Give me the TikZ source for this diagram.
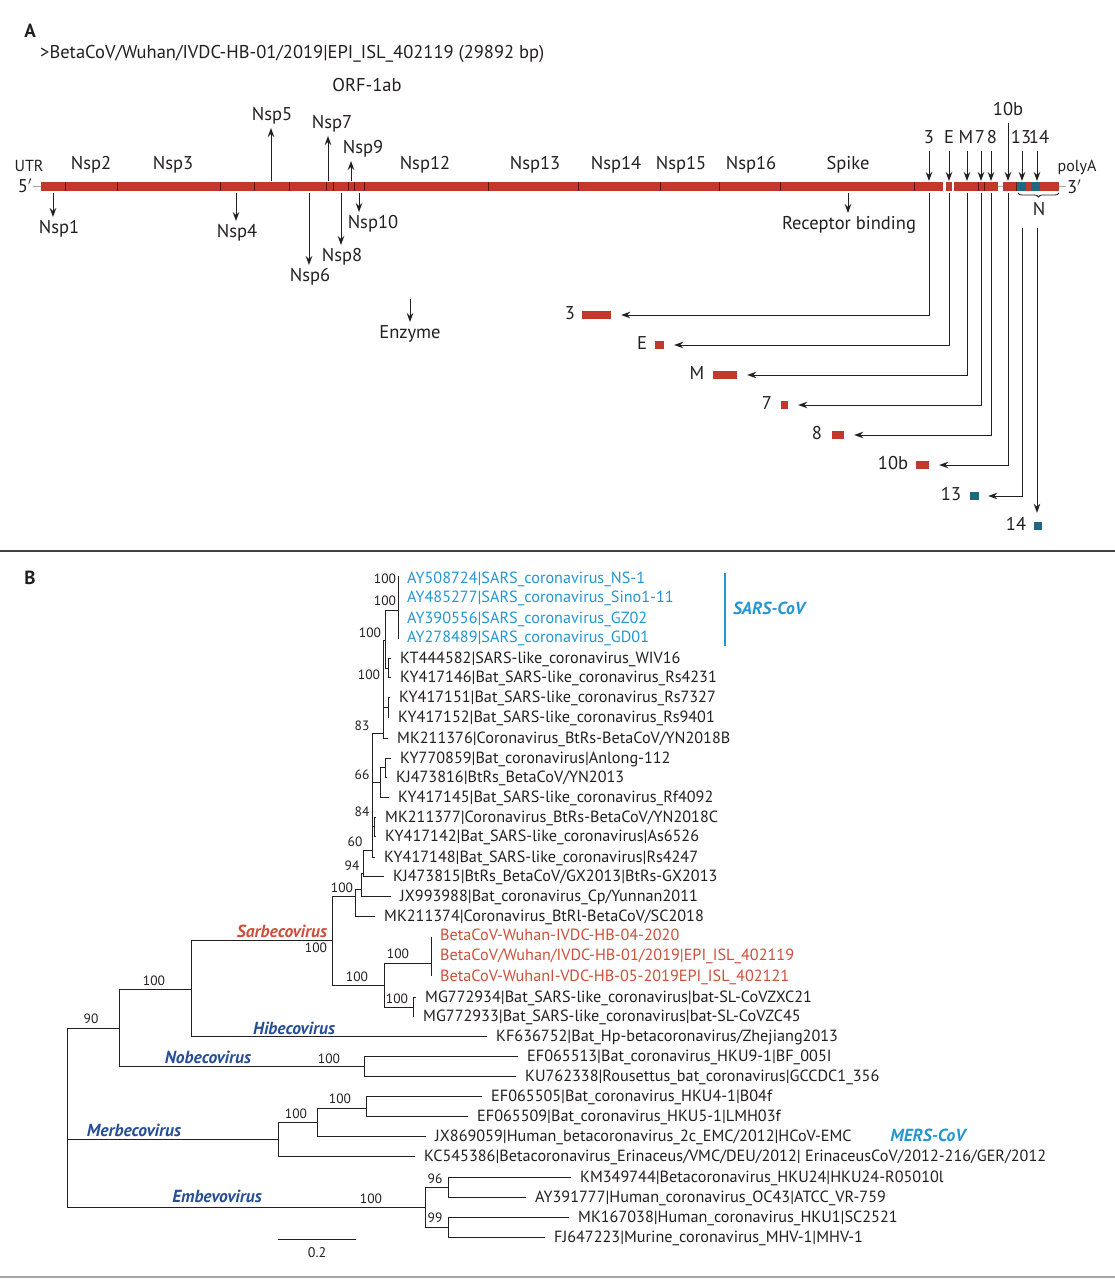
\documentclass[tikz,border=0pt]{standalone}
\usepackage{fontspec}
\setmainfont{PT Sans}
\usetikzlibrary{arrows.meta,calc,decorations.pathreplacing}

\definecolor{genred}{RGB}{192,57,43}
\definecolor{genteal}{RGB}{30,105,130}
\definecolor{sarsblue}{RGB}{35,150,210}
\definecolor{cladeblue}{RGB}{38,78,150}
\definecolor{covred}{RGB}{205,78,58}
\definecolor{ink}{RGB}{35,31,32}

\newcommand{\genefont}{\fontsize{18.5}{21}\selectfont}
\newcommand{\smallgenefont}{\fontsize{16}{19}\selectfont}
\newcommand{\leaffont}{\fontsize{16.2}{19}\selectfont}
\newcommand{\bootfont}{\fontsize{13.5}{16}\selectfont}
\newcommand{\cladefont}{\fontsize{17.5}{20}\selectfont\bfseries\itshape}

\tikzset{
  gene/.style={font=\genefont, text=ink, inner sep=3pt, text height=13.5pt, text depth=4pt},
  leaf/.style={font=\leaffont, text=ink, anchor=west, inner sep=0pt, text height=12.5pt, text depth=2pt},
  boot/.style={font=\bootfont, text=ink, inner sep=0pt},
  clade/.style={font=\cladefont, text=cladeblue, inner sep=0pt},
  branch/.style={draw=ink, line width=1pt},
  arr/.style={draw=ink, line width=1pt, -{Stealth[length=9pt,width=6.5pt]}},
  orfbox/.style={fill=genred, inner sep=0pt, minimum height=8pt},
  tick/.style={draw=genred!45!black, line width=1pt},
  endlabel/.style={font=\genefont, text=ink, inner sep=1pt, text height=10pt, text depth=0pt},
}

\begin{document}
\begin{tikzpicture}[x=1pt,y=-1pt]
  \useasboundingbox (0,0) rectangle (1115,1280);

  % panel A: genome
  \node[font=\fontsize{19}{22}\selectfont\bfseries, text=ink, inner sep=0pt] (pa) at (30,31) {A};
  \node[gene, anchor=west, inner sep=0pt] (hdr) at (40,54) {>BetaCoV/Wuhan/IVDC-HB-01/2019|EPI\_ISL\_402119 (29892 bp)};
  \node[gene] (orf) at (367,87) {ORF-1ab};

  \fill[genred] (41,182) rectangle (943,191);
  \fill[genred] (946,182) rectangle (952,191);
  \fill[genred] (954,182) rectangle (998,191);
  \fill[genred] (1003,182) rectangle (1059,191);
  \fill[genteal] (1018,182) rectangle (1026,191);
  \fill[genteal] (1031,182) rectangle (1040,191);
  \draw[gray!70, line width=1.5pt] (33,186.5) -- (41,186.5) (998,186.5) -- (1003,186.5) (1059,186.5) -- (1066,186.5);
  \foreach \t in {65,117,220,254,289,326,333,348,354,364,488,578,660,719,780,914,978,984,1016}
    \draw[tick] (\t,182) -- (\t,191);
  \coordinate (btop) at (0,181);
  \coordinate (bbot) at (0,193);

  \node[endlabel, anchor=east] (five) at (33,187) {5$'$};
  \node[endlabel, anchor=west] (three) at (1066,188) {3$'$};
  \node[gene, font=\smallgenefont, inner sep=1pt, text height=11pt, text depth=0pt] (utr) at (29,166) {UTR};
  \node[gene, font=\smallgenefont, inner sep=1pt, text depth=2pt] (polya) at (1077,166) {polyA};

  \foreach \x/\txt in {91/Nsp2,173/Nsp3,425/Nsp12,535/Nsp13,616/Nsp14,681/Nsp15,751/Nsp16,848/Spike}
    \node[gene] (\txt) at (\x,165) {\txt};

  % cleavage products below the bar
  \foreach \n/\ax/\lx/\ly/\txt in {nsp1/53/59/229/Nsp1, nsp4/236/237/233/Nsp4, nsp6/309/310/277/Nsp6,
      nsp8/341/342/257/Nsp8, nsp10/359/373/224/Nsp10, rbd/848/849/225/Receptor binding}{
    \node[gene] (\n) at (\lx,\ly) {\txt};
    \coordinate (\n base) at (\ax,193);
    \draw[arr] (\n base) -- (\n base |- \n.north);
  }
  % and above it
  \foreach \n/\ax/\lx/\ly/\txt in {nsp5/271/272/116/Nsp5, nsp7/328/332/124/Nsp7, nsp9/351/363/149/Nsp9}{
    \node[gene] (\n) at (\lx,\ly) {\txt};
    \coordinate (\n base) at (\ax,181);
    \draw[arr] (\n base) -- (\n base |- \n.south);
  }
  \node[gene] (enz) at (410,334) {Enzyme};
  \coordinate (enz top) at (410,299);
  \draw[arr] (enz top) -- (enz top |- enz.north);

  % accessory and structural ORFs
  \foreach \n/\x/\lx/\y in {3/929/929/139, E/949/949/139, M/967/966/139, 7/981/980/139,
      8/991/992/139, 10b/1008/1008/111, 13/1022/1021/139, 14/1037/1039/139}{
    \node[gene] (o\n) at (\lx,\y) {\n};
    \coordinate (c\n) at (\x,\y);
    \draw[arr] (c\n |- o\n.south) -- (c\n |- btop);
  }
  \draw[decorate, decoration={brace, mirror, amplitude=4pt}, ink, line width=0.8pt] (1018,193) -- (1059,193);
  \node[gene] (nN) at (1039,211) {N};
  \coordinate (nlow) at (0,228);

  \foreach \n/\lx/\bx/\bw/\y in {3/570/596.5/29/315, E/642/659.5/9/345, M/697/725/24/375,
      7/767/784.5/7/405, 8/817/838/12/435, 10b/893/922.5/13/465}{
    \node[gene] (r\n) at (\lx,\y) {\n};
    \node[orfbox, minimum width=\bw pt] (b\n) at (\bx,\y) {};
    \draw[arr] (c\n |- bbot) |- ([xshift=10pt]b\n.east);
  }
  \node[gene] (r13) at (951,496) {13};
  \node[orfbox, fill=genteal, minimum width=9pt] (b13) at (974.5,496) {};
  \draw[arr] (c13 |- nlow) |- ([xshift=9pt]b13.east);
  \node[gene] (r14) at (1016,526) {14};
  \node[orfbox, fill=genteal, minimum width=8pt] (b14) at (1037.5,526) {};
  \draw[arr, shorten >=9pt] (c14 |- nlow) -- (c14 |- b14.north);

  \draw[ink!85, line width=1.6pt] (0,551) -- (1115,551);

  % panel B: tree
  \node[font=\fontsize{19}{22}\selectfont\bfseries, text=ink, inner sep=0pt] (pb) at (30,578) {B};

  \node[leaf, text=sarsblue] (l1) at (407,578) {AY508724|SARS\_coronavirus\_NS-1};
  \node[leaf, text=sarsblue] (l2) at (407,597) {AY485277|SARS\_coronavirus\_Sino1-11};
  \node[leaf, text=sarsblue] (l3) at (407,618) {AY390556|SARS\_coronavirus\_GZ02};
  \node[leaf, text=sarsblue] (l4) at (407,637) {AY278489|SARS\_coronavirus\_GD01};
  \node[leaf] (l5) at (400,658) {KT444582|SARS-like\_coronavirus\_WIV16};
  \node[leaf] (l6) at (400,677) {KY417146|Bat\_SARS-like\_coronavirus\_Rs4231};
  \node[leaf] (l7) at (399,697) {KY417151|Bat\_SARS-like\_coronavirus\_Rs7327};
  \node[leaf] (l8) at (398,717) {KY417152|Bat\_SARS-like\_coronavirus\_Rs9401};
  \node[leaf] (l9) at (397,738) {MK211376|Coronavirus\_BtRs-BetaCoV/YN2018B};
  \node[leaf] (l10) at (400,758) {KY770859|Bat\_coronavirus|Anlong-112};
  \node[leaf] (l11) at (396,777) {KJ473816|BtRs\_BetaCoV/YN2013};
  \node[leaf] (l12) at (398,797) {KY417145|Bat\_SARS-like\_coronavirus\_Rf4092};
  \node[leaf] (l13) at (385,817) {MK211377|Coronavirus\_BtRs-BetaCoV/YN2018C};
  \node[leaf] (l14) at (385,836) {KY417142|Bat\_SARS-like\_coronavirus|As6526};
  \node[leaf] (l15) at (384,857) {KY417148|Bat\_SARS-like\_coronavirus|Rs4247};
  \node[leaf] (l16) at (393,876) {KJ473815|BtRs\_BetaCoV/GX2013|BtRs-GX2013};
  \node[leaf] (l17) at (400,896) {JX993988|Bat\_coronavirus\_Cp/Yunnan2011};
  \node[leaf] (l18) at (384,916) {MK211374|Coronavirus\_BtRl-BetaCoV/SC2018};
  \node[leaf, text=covred] (l19) at (440,935) {BetaCoV-Wuhan-IVDC-HB-04-2020};
  \node[leaf, text=covred] (l20) at (440,955) {BetaCoV/Wuhan/IVDC-HB-01/2019|EPI\_ISL\_402119};
  \node[leaf, text=covred] (l21) at (440,976) {BetaCoV-WuhanI-VDC-HB-05-2019EPI\_ISL\_402121};
  \node[leaf] (l22) at (425,997) {MG772934|Bat\_SARS-like\_coronavirus|bat-SL-CoVZXC21};
  \node[leaf] (l23) at (423,1016) {MG772933|Bat\_SARS-like\_coronavirus|bat-SL-CoVZC45};
  \node[leaf] (l24) at (496,1036) {KF636752|Bat\_Hp-betacoronavirus/Zhejiang2013};
  \node[leaf] (l25) at (527,1056) {EF065513|Bat\_coronavirus\_HKU9-1|BF\_005I};
  \node[leaf] (l26) at (525,1076) {KU762338|Rousettus\_bat\_coronavirus|GCCDC1\_356};
  \node[leaf] (l27) at (491,1096) {EF065505|Bat\_coronavirus\_HKU4-1|B04f};
  \node[leaf] (l28) at (477,1116) {EF065509|Bat\_coronavirus\_HKU5-1|LMH03f};
  \node[leaf] (l29) at (435,1136) {JX869059|Human\_betacoronavirus\_2c\_EMC/2012|HCoV-EMC};
  \node[leaf] (l30) at (424,1156) {KC545386|Betacoronavirus\_Erinaceus/VMC/DEU/2012| ErinaceusCoV/2012-216/GER/2012};
  \node[leaf] (l31) at (580,1177) {KM349744|Betacoronavirus\_HKU24|HKU24-R05010l};
  \node[leaf] (l32) at (535,1197) {AY391777|Human\_coronavirus\_OC43|ATCC\_VR-759};
  \node[leaf] (l33) at (578,1217) {MK167038|Human\_coronavirus\_HKU1|SC2521};
  \node[leaf] (l34) at (554,1237) {FJ647223|Murine\_coronavirus\_MHV-1|MHV-1};

  % internal nodes
  \coordinate (nsars) at (398,610);
  \coordinate (nwiv) at (388,668);
  \coordinate (nA) at (385,640);
  \coordinate (nrs) at (388,707);
  \coordinate (nB) at (383,733);
  \coordinate (nan) at (385,767);
  \coordinate (nan2) at (380,782);
  \coordinate (nb) at (374,826);
  \coordinate (n4) at (372,850);
  \coordinate (nc) at (363,873);
  \coordinate (nd) at (361,889);
  \coordinate (ne) at (355,896);
  \coordinate (nwu) at (431,963);
  \coordinate (nz) at (413,1007);
  \coordinate (nw2) at (384,985);
  \coordinate (nsarb) at (332,940);
  \coordinate (nsh) at (191,989);
  \coordinate (nnob) at (364,1066);
  \coordinate (n90) at (119,1028);
  \coordinate (nm1) at (366,1108);
  \coordinate (nm2) at (317,1122);
  \coordinate (nm3) at (278,1139);
  \coordinate (ne1) at (448,1187);
  \coordinate (ne2) at (448,1227);
  \coordinate (ne3) at (425,1207);
  \coordinate (root) at (67,1100);

  \draw[branch] ([yshift=2pt]l1.west -| nsars) -- ([yshift=-2pt]l4.west -| nsars);
  \draw[branch] ([yshift=-2pt]l19.west -| nwu) -- (l21.west -| nwu);
  \foreach \p/\c in {nA/nsars, nA/nwiv, nB/nA, nB/nrs, n4/nB, n4/nan2, n4/nb, nan2/nan,
      nc/n4, nd/nc, ne/nd, nsarb/ne, nsarb/nw2, nw2/nwu, nw2/nz, nsh/nsarb, n90/nsh, n90/nnob,
      root/n90, root/nm3, root/ne3, nm3/nm2, nm2/nm1, ne3/ne1, ne3/ne2}
    \draw[branch] (\p) |- (\c);
  \foreach \p/\c in {nwiv/l5, nwiv/l6, nrs/l7, nrs/l8, nB/l9, nan/l10, nan/l11, nan2/l12,
      nb/l13, nb/l14, n4/l15, nc/l16, nd/l17, ne/l18, nz/l22, nz/l23, nsh/l24, nnob/l25, nnob/l26,
      nm1/l27, nm1/l28, nm2/l29, nm3/l30, ne1/l31, ne1/l32, ne2/l33, ne2/l34}
    \draw[branch] (\p) |- ([xshift=-9pt]\c.west);

  % bootstrap values
  \foreach \x/\y/\v [count=\i] in {385/579/100, 385/601/100, 370/633/100, 369/675/100, 362/726/83,
      362/775/66, 362/812/84, 355/842/60, 352/866/94, 342/888/100, 316/948/100, 398/954/100,
      357/977/100, 397/999/100, 154/981/100, 91/1019/90, 329/1059/100, 340/1099/100,
      296/1114/100, 371/1199/100, 435/1179/96, 435/1218/99}
    \node[boot] (bs\i) at (\x,\y) {\v};

  % clade names
  \node[clade, text=covred] (sarbeco) at (282,931) {Sarbecovirus};
  \node[clade] (hibeco) at (294,1028) {Hibecovirus};
  \node[clade] (nobeco) at (208,1057) {Nobecovirus};
  \node[clade] (merbeco) at (134,1130) {Merbecovirus};
  \node[clade] (embevo) at (217,1196) {Embevovirus};
  \node[clade, text=sarsblue] (sarscov) at (769,608) {SARS-CoV};
  \draw[sarsblue, line width=1.6pt] (725,573) -- (725,646);
  \node[clade, text=sarsblue] (merscov) at (928,1135) {MERS-CoV};

  % scale bar
  \coordinate (sb0) at (278,1239);
  \coordinate (sb1) at (356,1239);
  \draw[branch] (sb0) -- (sb1);
  \node[boot, font=\fontsize{14}{16}\selectfont] (sbl) at (317,1253) {0.2};

  \draw[gray!70, line width=2.5pt] (0,1277) -- (1115,1277);
\end{tikzpicture}
\end{document}
